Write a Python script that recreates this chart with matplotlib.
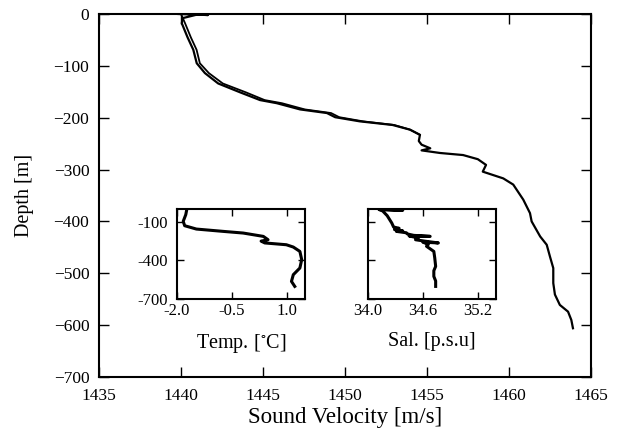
"""
Sound velocity profile with temperature and salinity insets
"""
import matplotlib
matplotlib.use("Agg")
import matplotlib.pyplot as plt

# sound velocity, first cast (down)
sv_depth = [0, -2, -1, -8, -18, -45, -69, -95, -114, -134, -151, -166, -172, -184,
            -191, -199, -207, -214, -223, -233, -245, -252, -259, -263, -268, -272,
            -280, -291, -304, -317, -329, -358, -384, -400, -429, -445, -468, -490,
            -519, -541, -561, -574, -590, -606]
sv_speed = [1439.85, 1441.65, 1441.0, 1440.1, 1440.05, 1440.4, 1440.75, 1440.96, 1441.46,
            1442.27, 1443.6, 1444.82, 1445.84, 1447.26, 1448.9, 1449.4, 1450.9, 1452.9,
            1453.96, 1454.57, 1454.5, 1454.67, 1455.2, 1454.67, 1455.79, 1457.2, 1458.1,
            1458.6, 1458.4, 1459.65, 1460.26, 1460.87, 1461.28, 1461.38, 1461.9, 1462.3,
            1462.5, 1462.7, 1462.7, 1462.8, 1463.1, 1463.6, 1463.8, 1463.9]

# second cast (up), only upper part differs
sv2_depth = [0, -18, -45, -69, -95, -114, -134, -151, -166, -172, -184, -191, -199,
             -207, -214, -223, -233]
sv2_speed = [1440.0, 1440.25, 1440.6, 1440.95, 1441.15, 1441.7, 1442.55, 1443.95, 1445.1,
             1446.15, 1447.55, 1449.15, 1449.65, 1451.1, 1453.0, 1453.96, 1454.57]

# temperature inset
t_depth = [0, -44, -96, -130, -156, -174, -187, -213, -239, -250, -264, -278, -296,
           -330, -394, -459, -511, -563, -602]
t_temp = [-1.73, -1.76, -1.83, -1.79, -1.47, -0.74, -0.19, 0.36, 0.49, 0.3, 0.40,
          0.99, 1.18, 1.36, 1.41, 1.36, 1.18, 1.13, 1.22]

# salinity inset
s_depth = [-3, -10, -4, -15, -52, -109, -140, -150, -160, -170, -174, -185, -194,
           -205, -213, -210, -225, -239, -250, -264, -258, -275, -290, -330, -380,
           -446, -480, -524, -560, -602]
s_sal = [34.13, 34.38, 34.12, 34.16, 34.21, 34.26, 34.28, 34.34, 34.29, 34.38, 34.31,
         34.42, 34.43, 34.50, 34.68, 34.45, 34.55, 34.52, 34.62, 34.77, 34.60, 34.66,
         34.64, 34.72, 34.73, 34.74, 34.72, 34.72, 34.74, 34.74]

x_ticks = [1435, 1440, 1445, 1450, 1455, 1460, 1465]
y_ticks = [0, -100, -200, -300, -400, -500, -600, -700]

plt.rcParams["font.family"] = ["Liberation Serif", "DejaVu Serif"]
plt.rcParams["mathtext.fontset"] = "stix"
plt.rcParams["axes.linewidth"] = 1.5

fig = plt.figure(figsize=(6.21, 4.32), dpi=100)
ax = fig.add_axes([99 / 621, 1 - 377 / 432, 492 / 621, 363 / 432])
ax.plot(sv2_speed, sv2_depth, color="black", linewidth=1.3)
ax.plot(sv_speed, sv_depth, color="black", linewidth=1.6)
ax.set_xlim(1435, 1465)
ax.set_ylim(-700, 0)
ax.set_xticks(x_ticks)
ax.set_yticks(y_ticks)
ax.tick_params(direction="in", length=7, width=1.0, top=True, right=True,
               labelsize=12.5)
ax.tick_params(axis="x", pad=8)
ax.tick_params(axis="y", pad=7)
ax.set_xlabel("Sound Velocity [m/s]", fontsize=16.5, labelpad=2)
ax.set_ylabel("Depth [m]", fontsize=14.5, labelpad=14)

# temperature inset
ax_t = fig.add_axes([177 / 621, 1 - 299 / 432, 128 / 621, 90 / 432])
ax_t.plot(t_temp, t_depth, color="black", linewidth=2.2)
ax_t.set_xlim(-2.0, 1.5)
ax_t.set_ylim(-700, 0)
ax_t.set_xticks([-2.0, -0.5, 1.0], ["-2.0", "-0.5", "1.0"])
ax_t.set_yticks([-100, -400, -700], ["-100", "-400", "-700"])
ax_t.tick_params(direction="in", length=5, width=1.0, top=True, right=True,
                 labelsize=12, pad=3)
ax_t.tick_params(axis="y", pad=6.5)
ax_t.set_xlabel(r"Temp. [$^{\circ}$C]", fontsize=14.5, labelpad=9)

# salinity inset
ax_s = fig.add_axes([368 / 621, 1 - 299 / 432, 128 / 621, 90 / 432])
ax_s.plot(s_sal, s_depth, color="black", linewidth=2.2)
ax_s.set_xlim(34.0, 35.4)
ax_s.set_ylim(-700, 0)
ax_s.set_xticks([34.0, 34.6, 35.2], ["34.0", "34.6", "35.2"])
ax_s.set_yticks([-100, -400, -700], [])
ax_s.tick_params(direction="in", length=5, width=1.0, top=True, right=True,
                 labelsize=12, pad=3)
ax_s.set_xlabel("Sal. [p.s.u]", fontsize=14.5, labelpad=9)

plt.savefig("out.png", dpi=100)
plt.close()
